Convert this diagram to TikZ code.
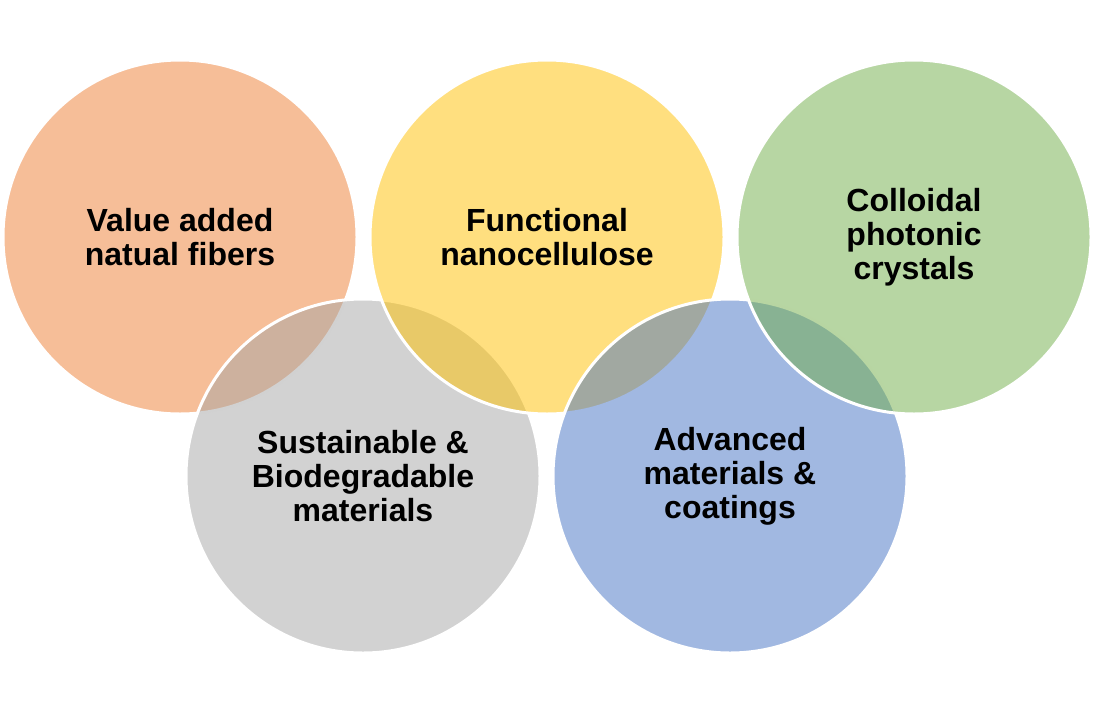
\documentclass[tikz,border=0pt]{standalone}
\usepackage{fontspec}
\setmainfont{Liberation Sans}
\usepackage{xcolor}
\usepackage{tikz}
\definecolor{ringorange}{HTML}{ED7D31}
\definecolor{ringyellow}{HTML}{FFC000}
\definecolor{ringgreen}{HTML}{70AD47}
\definecolor{ringgray}{HTML}{A5A5A5}
\definecolor{ringblue}{HTML}{4472C4}
\tikzset{
  ring/.style={circle,draw=white,line width=1.5pt,fill opacity=0.5,text opacity=1,
    minimum size=177pt,inner sep=0pt,align=center,
    font=\fontsize{16}{17}\selectfont\bfseries}
}

\begin{document}
\begin{tikzpicture}[x=0.5pt,y=-0.5pt]
    \useasboundingbox (0,0) rectangle (1095,712);
    % drawn in stacking order
    \node[ring,fill=ringorange] (fibers) at (180,237) {Value added\\natual fibers};
    \node[ring,fill=ringgray] (sustain) at (363,476) {Sustainable \&\\Biodegradable\\materials};
    \node[ring,fill=ringyellow] (nano) at (547,237) {Functional\\nanocellulose};
    \node[ring,fill=ringblue] (advanced) at (730,476) {Advanced\\materials \&\\coatings};
    \node[ring,fill=ringgreen] (photonic) at (914,237) {Colloidal\\photonic\\crystals};
\end{tikzpicture}
\end{document}
